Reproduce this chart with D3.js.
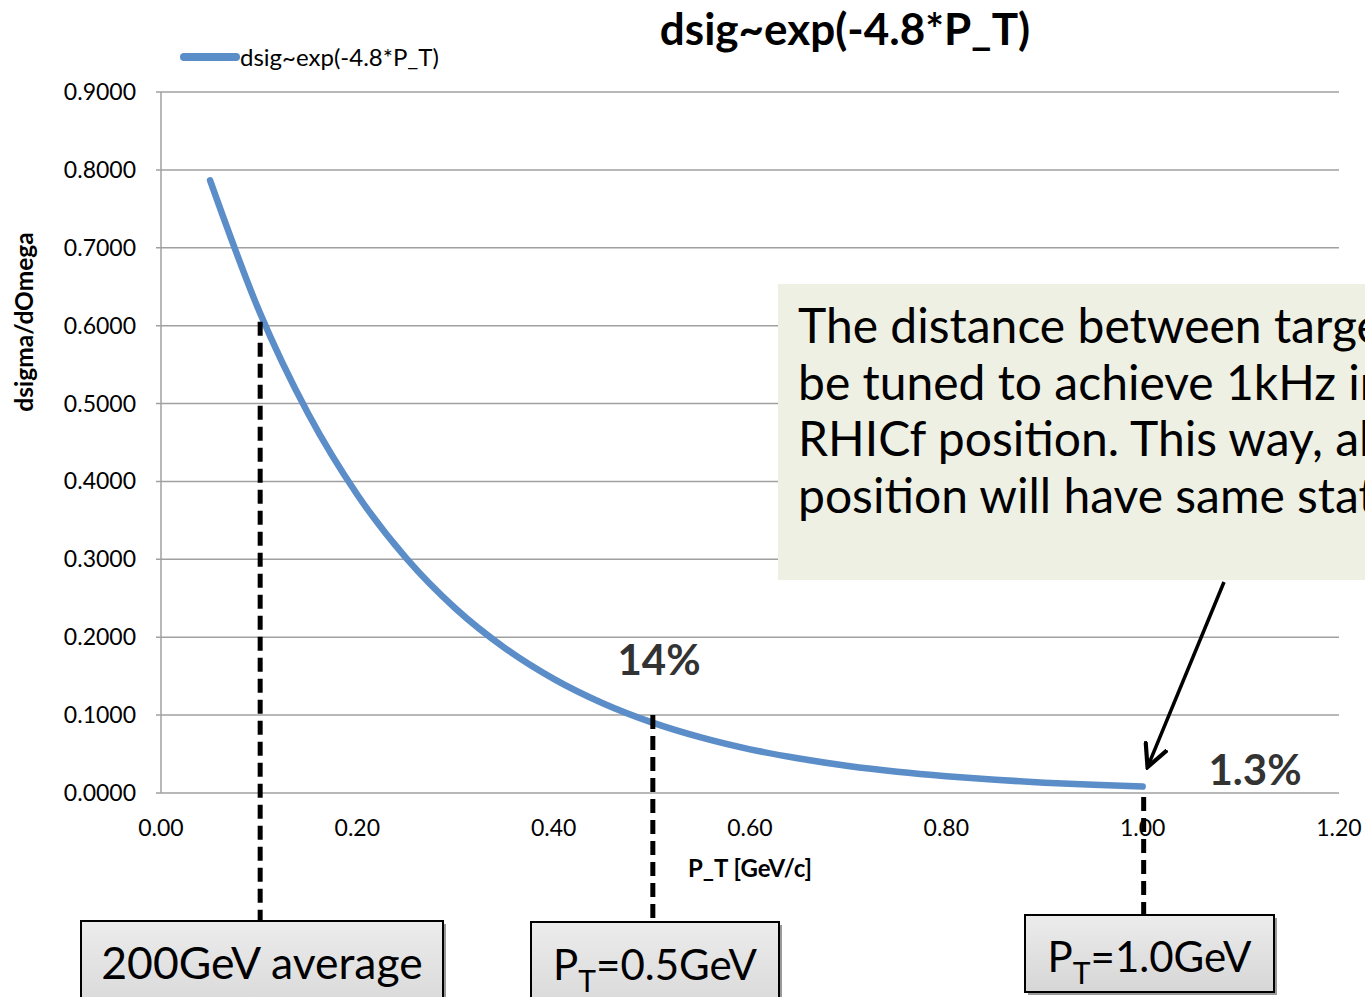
<!DOCTYPE html>
<html><head><meta charset="utf-8">
<script src="https://cdn.jsdelivr.net/npm/d3@7"></script>
<style>
html,body{margin:0;padding:0;background:#fff;overflow:hidden}
svg{display:block}
text{font-family:Lato,"Open Sans",sans-serif}
</style></head>
<body>
<svg id="chart" width="1365" height="997"></svg>
<script>
// ---- data ----
const seriesName = "dsig~exp(-4.8*P_T)";
const ptValues = [0.05,0.10,0.15,0.20,0.25,0.30,0.35,0.40,0.45,0.50,0.55,0.60,0.65,0.70,0.75,0.80,0.85,0.90,0.95,1.00];
const dsigValues = [0.7866,0.6188,0.4868,0.3829,0.3012,0.2369,0.1864,0.1466,0.1153,0.0907,0.0714,0.0561,0.0442,0.0347,0.0273,0.0215,0.0169,0.0133,0.0105,0.0082];
const xTicks = [0,0.2,0.4,0.6,0.8,1.0,1.2];
const yTicks = [0,0.1,0.2,0.3,0.4,0.5,0.6,0.7,0.8,0.9];
const markers = [0.1, 0.5, 1.0];
const percentLabels = ["14%","1.3%"];
const noteLines = ["The distance between target and detector should","be tuned to achieve 1kHz in the","RHICf position. This way, all","position will have same statistics"];
const boxLabels = ["200GeV average","=0.5GeV","=1.0GeV"];

const svg = d3.select("#chart");
const m = {left:161, top:92, right:1339, bottom:793};
const x = d3.scaleLinear().domain([0,1.2]).range([m.left,m.right]);
const y = d3.scaleLinear().domain([0,0.9]).range([m.bottom,m.top]);

// gridlines
svg.append("g").selectAll("line").data(yTicks).join("line")
  .attr("x1",m.left-5).attr("x2",m.right)
  .attr("y1",d=>y(d)).attr("y2",d=>y(d))
  .attr("stroke","#a0a0a0").attr("stroke-width",1.5);
svg.append("line").attr("x1",m.left).attr("x2",m.left).attr("y1",m.top).attr("y2",m.bottom)
  .attr("stroke","#a0a0a0").attr("stroke-width",1.5);

// y tick labels
svg.append("g").selectAll("text").data(yTicks).join("text")
  .attr("x",136).attr("y",d=>y(d)+8)
  .attr("text-anchor","end").attr("font-size",23).attr("fill","#000")
  .text(d=>d3.format(".4f")(d));
// x tick labels
svg.append("g").selectAll("text").data(xTicks).join("text")
  .attr("x",d=>x(d)).attr("y",836)
  .attr("text-anchor","middle").attr("font-size",23).attr("fill","#000")
  .text(d=>d3.format(".2f")(d));

// axis titles
svg.append("text").attr("x",750).attr("y",877).attr("text-anchor","middle")
  .attr("font-size",24).attr("font-weight","bold").text("P_T [GeV/c]");
svg.append("text").attr("transform","translate(33,322) rotate(-90)").attr("text-anchor","middle")
  .attr("font-size",24.5).attr("font-weight","bold").text("dsigma/dOmega");

// title
svg.append("text").attr("x",845).attr("y",45).attr("text-anchor","middle")
  .attr("font-size",44).attr("font-weight","bold").text(seriesName);

// legend
svg.append("line").attr("x1",184).attr("x2",236).attr("y1",57).attr("y2",57)
  .attr("stroke","#5b8dc8").attr("stroke-width",8).attr("stroke-linecap","round");
svg.append("text").attr("x",240).attr("y",66).attr("font-size",24).text(seriesName);

// curve
const pts = ptValues.map((v,i)=>[v,dsigValues[i]]);
svg.append("path").datum(pts)
  .attr("d", d3.line().x(d=>x(d[0])).y(d=>y(d[1])).curve(d3.curveMonotoneX))
  .attr("fill","none").attr("stroke","#5b8dc8").attr("stroke-width",6.5)
  .attr("stroke-linecap","round").attr("stroke-linejoin","round");

// dashed markers
const dashSpec = [
  {x:markers[0], y1:y(0.605), y2:921},
  {x:markers[1], y1:y(0.1), y2:922},
  {x:markers[2], y1:y(0)+4, y2:915}
];
svg.append("g").selectAll("line").data(dashSpec).join("line")
  .attr("x1",d=>x(d.x)+1).attr("x2",d=>x(d.x)+1)
  .attr("y1",d=>d.y1).attr("y2",d=>d.y2)
  .attr("stroke","#000").attr("stroke-width",5).attr("stroke-dasharray","14,7");

// percent labels
const pctPos = [{x:659,y:675},{x:1255,y:785}];
svg.append("g").selectAll("text").data(percentLabels).join("text")
  .attr("x",(d,i)=>pctPos[i].x).attr("y",(d,i)=>pctPos[i].y)
  .attr("text-anchor","middle").attr("font-size",42).attr("font-weight","bold")
  .attr("fill","#333").text(d=>d);

// note box
const note = svg.append("g");
note.append("rect").attr("x",778).attr("y",284).attr("width",600).attr("height",296).attr("fill","#eef0e4");
note.selectAll("text").data(noteLines).join("text")
  .attr("x",798).attr("y",(d,i)=>343+i*56.7).attr("font-size",48).attr("fill","#000").text(d=>d);

// arrow
const defs = svg.append("defs");
defs.append("marker").attr("id","ah").attr("viewBox","0 0 10 10").attr("refX",8.5).attr("refY",5)
  .attr("markerWidth",26).attr("markerHeight",26).attr("orient","auto").attr("markerUnits","userSpaceOnUse")
  .append("path").attr("d","M0,0.5 L9,5 L0,9.5").attr("fill","none").attr("stroke","#000").attr("stroke-width",1.6);
svg.append("line").attr("x1",1224).attr("y1",582).attr("x2",1148).attr("y2",766)
  .attr("stroke","#000").attr("stroke-width",3.5).attr("marker-end","url(#ah)");

// label boxes
const grad = defs.append("linearGradient").attr("id","bg").attr("x1",0).attr("x2",0).attr("y1",0).attr("y2",1);
grad.append("stop").attr("offset","0%").attr("stop-color","#ececec");
grad.append("stop").attr("offset","100%").attr("stop-color","#d6d6d6");
const boxes = [
  {x:81, y:921, w:362, h:100, sub:false},
  {x:531, y:922, w:248, h:100, sub:true},
  {x:1025, y:915, w:249, h:77, sub:true}
];
const bg = svg.append("g");
bg.selectAll("rect.sh").data(boxes).join("rect").attr("class","sh")
  .attr("x",d=>d.x+3).attr("y",d=>d.y+3).attr("width",d=>d.w).attr("height",d=>d.h).attr("fill","#9a9a9a");
bg.selectAll("rect.bx").data(boxes).join("rect").attr("class","bx")
  .attr("x",d=>d.x).attr("y",d=>d.y).attr("width",d=>d.w).attr("height",d=>d.h)
  .attr("fill","url(#bg)").attr("stroke","#000").attr("stroke-width",2);
boxes.forEach((b,i)=>{
  const t = bg.append("text").attr("x",b.x+b.w/2).attr("y",i===2?b.y+57:b.y+58)
    .attr("text-anchor","middle").attr("font-size",i===0?44.5:42).attr("fill","#000");
  if(b.sub){
    t.append("tspan").text("P");
    t.append("tspan").attr("dy",12).attr("font-size",30).text("T");
    t.append("tspan").attr("dy",-12).text(boxLabels[i]);
  } else {
    t.append("tspan").text(boxLabels[i]);
  }
});
</script>
</body></html>
